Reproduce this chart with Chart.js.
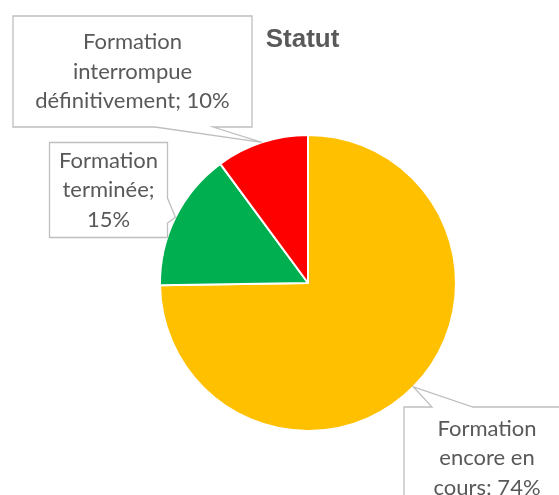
<html>
<head>
<title>Statut</title>
<script src="https://cdn.jsdelivr.net/npm/chart.js@4.4.1/dist/chart.umd.min.js"></script>
<style>
  body { margin: 0; background: #fff; }
</style>
</head>
<body>
<canvas id="myChart" width="559" height="495"></canvas>
<script type="text/javascript">
var categories = ["Formation encore en cours", "Formation terminée", "Formation interrompue définitivement"];
var percents = [74, 15, 10];
var sliceColors = ["#FFC000", "#00B050", "#FF0000"];

// callout boxes (label layout only), same order as categories
var callouts = [
    { x: 404, y: 407, w: 166, h: 102, side: "top", a: 432, b: 473, wrap: 116 },
    { x: 49.5, y: 142.5, w: 118, h: 95, side: "right", a: 198, b: 223, wrap: 116 },
    { x: 13, y: 16, w: 239, h: 111, side: "bottom", a: 213, b: 155, wrap: 210 }
];

var labelFont = "22px Lato";
var lineH = 29.5;

function wrapText(ctx, text, maxW) {
    var words = text.split(" ");
    var lines = [];
    var cur = "";
    words.forEach(function(w) {
        var test = cur ? cur + " " + w : w;
        if (cur && ctx.measureText(test).width > maxW) {
            lines.push(cur);
            cur = w;
        } else {
            cur = test;
        }
    });
    if (cur) lines.push(cur);
    return lines;
}

var calloutPlugin = {
    id: "callouts",
    afterDraw: function(chart) {
        var ctx = chart.ctx;
        var arcs = chart.getDatasetMeta(0).data;
        ctx.save();

        // title
        ctx.fillStyle = "#595959";
        ctx.font = "bold 26px 'Liberation Sans'";
        ctx.textAlign = "center";
        ctx.textBaseline = "alphabetic";
        ctx.fillText("Statut", 302.5, 47);

        arcs.forEach(function(arc, i) {
            var p = arc.getProps(["x", "y", "startAngle", "endAngle", "outerRadius"], true);
            var mid = (p.startAngle + p.endAngle) / 2;
            var tx = p.x + Math.cos(mid) * p.outerRadius;
            var ty = p.y + Math.sin(mid) * p.outerRadius;
            var c = callouts[i];
            var r = c.x + c.w, btm = c.y + c.h;

            ctx.beginPath();
            ctx.moveTo(c.x, c.y);
            if (c.side == "top") { ctx.lineTo(c.a, c.y); ctx.lineTo(tx, ty); ctx.lineTo(c.b, c.y); }
            ctx.lineTo(r, c.y);
            if (c.side == "right") { ctx.lineTo(r, c.a); ctx.lineTo(tx, ty); ctx.lineTo(r, c.b); }
            ctx.lineTo(r, btm);
            if (c.side == "bottom") { ctx.lineTo(c.a, btm); ctx.lineTo(tx, ty); ctx.lineTo(c.b, btm); }
            ctx.lineTo(c.x, btm);
            ctx.closePath();
            ctx.fillStyle = "#fff";
            ctx.fill();
            ctx.strokeStyle = "#BFBFBF";
            ctx.lineWidth = 1.3;
            ctx.stroke();

            ctx.font = labelFont;
            ctx.fillStyle = "#595959";
            ctx.textAlign = "center";
            ctx.textBaseline = "middle";
            var lines = wrapText(ctx, categories[i] + "; " + percents[i] + "%", c.wrap);
            var cy = c.y + c.h / 2 - (lines.length - 1) * lineH / 2;
            lines.forEach(function(l, k) {
                ctx.fillText(l, c.x + c.w / 2, cy + k * lineH);
            });
        });
        ctx.restore();
    }
};

var ctx = document.getElementById("myChart").getContext("2d");
var myChart = new Chart(ctx, {
    type: "pie",
    data: {
        labels: categories,
        datasets: [{
            data: percents,
            backgroundColor: sliceColors,
            borderColor: "#ffffff",
            borderWidth: 2
        }]
    },
    options: {
        responsive: false,
        animation: false,
        layout: { padding: { left: 159, right: 102, top: 134, bottom: 63 } },
        plugins: {
            legend: { display: false },
            tooltip: { enabled: false }
        }
    },
    plugins: [calloutPlugin]
});
</script>
</body>
</html>
